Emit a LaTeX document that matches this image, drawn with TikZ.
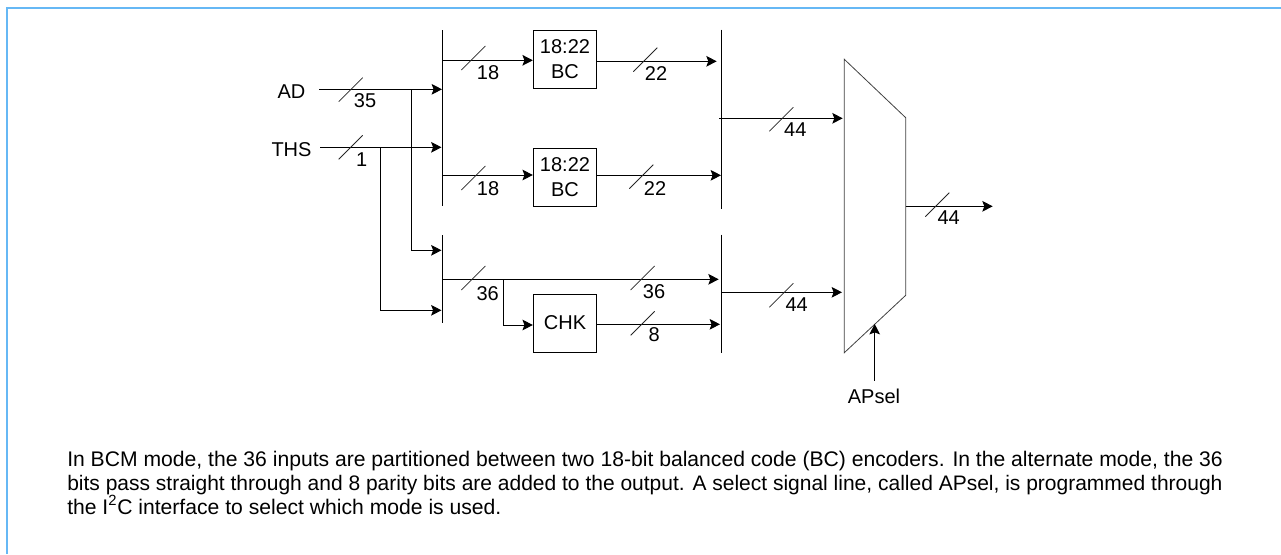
\documentclass[tikz,border=0pt]{standalone}
\usepackage{fontspec}
\setmainfont{Liberation Sans}
\usetikzlibrary{arrows.meta, positioning}
\definecolor{frameblue}{rgb}{0.4, 0.72, 0.96}
\definecolor{slashgray}{rgb}{0.15, 0.15, 0.15}
\tikzset{
    wire/.style={line width=0.75pt},
    feed/.style={wire, -{Stealth[length=7.8pt, width=8pt, inset=1.5pt]}},
    busbar/.style={line width=0.75pt},
    slash/.style={line width=0.55pt, slashgray},
    coder/.style={draw, line width=0.75pt, minimum width=47.5pt, minimum height=43.5pt, inner sep=0pt, align=center, font=\fontsize{15}{18.75}\selectfont},
    tag/.style={inner sep=0pt, font=\fontsize{15}{18}\selectfont},
    noteline/.style={anchor=base west, inner sep=0pt, font=\fontsize{15.85}{18}\selectfont}
}

\begin{document}
\begin{tikzpicture}[x=0.75pt, y=-0.75pt]
    \useasboundingbox (0, 0) rectangle (1281, 554);
    \draw[frameblue, line width=1.8pt] (7, 554) -- (7, 7.8) -- (1281, 7.8);

    % blocks
    \node[coder] (BCa) at (565, 59.3) {18:22\\BC};
    \node[coder] (BCb) at (565, 177.2) {18:22\\BC};
    \node[coder] (CHK) at (565, 323) {\raisebox{-1.5pt}{CHK}};

    % inputs
    \node[tag] (AD) at (291.5, 91.5) {AD};
    \node[tag] (THS) at (291.5, 149.5) {THS};
    \node[tag] (APsel) at (874, 396) {APsel};

    % buses on the left
    \coordinate (LaT) at (442.5, 30);
    \coordinate (LaB) at (442.5, 206);
    \coordinate (LbT) at (442.5, 235);
    \coordinate (LbB) at (442.5, 323);
    \draw[busbar] (LaT) -- (LaB);
    \draw[busbar] (LbT) -- (LbB);

    % buses on the right
    \coordinate (RaT) at (721.5, 29.5);
    \coordinate (RaB) at (721.5, 208.5);
    \coordinate (RbT) at (721.5, 234.5);
    \coordinate (RbB) at (721.5, 353);
    \draw[busbar] (RaT) -- (RaB);
    \draw[busbar] (RbT) -- (RbB);

    % mux
    \coordinate (MuxA) at (844.3, 59.3);
    \coordinate (MuxB) at (905.7, 117.7);
    \coordinate (MuxC) at (905.7, 295.3);
    \coordinate (MuxD) at (844.3, 352.7);
    \draw[line width=0.6pt, black!75] (MuxA) -- (MuxB) -- (MuxC) -- (MuxD) -- cycle;

    % points where wires meet the bars
    \coordinate (ADin) at (319, 89.3);
    \coordinate (ADend) at (442, 89.3);
    \coordinate (ADtap) at (411.7, 89.3);
    \coordinate (ADlow) at (411.7, 250.3);
    \coordinate (ADlowend) at (441.5, 250.3);
    \coordinate (THSin) at (320, 147.3);
    \coordinate (THSend) at (441.5, 147.3);
    \coordinate (THStap) at (380, 147.3);
    \coordinate (THSlow) at (380, 310.3);
    \coordinate (THSlowend) at (441.5, 310.3);

    \coordinate (LaOutA) at (442.5, 60.3);
    \coordinate (LaOutB) at (442.5, 175);
    \coordinate (LbOut) at (442.5, 279.3);
    \coordinate (LbTap) at (503.3, 279.3);
    \coordinate (LbLow) at (503.3, 325);
    \coordinate (LbEnd) at (718.7, 279.3);

    \coordinate (RaInA) at (716.7, 61.3);
    \coordinate (RaInB) at (721, 175.3);
    \coordinate (RbIn) at (720, 324.3);
    \coordinate (RaOut) at (719, 118.3);
    \coordinate (RaMux) at (842.7, 118.3);
    \coordinate (RbOut) at (721.5, 292.3);
    \coordinate (RbMux) at (842, 292.3);
    \coordinate (OutA) at (905.7, 206.3);
    \coordinate (OutB) at (992.7, 206.3);
    \coordinate (SelA) at (874.7, 380.7);
    \coordinate (SelB) at (874.7, 324);

    \draw[feed] (ADin) -- (ADend);
    \draw[feed] (THSin) -- (THSend);
    \draw[feed] (ADtap) -- (ADlow) -- (ADlowend);
    \draw[feed] (THStap) -- (THSlow) -- (THSlowend);

    \draw[feed] (LaOutA) -- (LaOutA -| BCa.west);
    \draw[feed] (LaOutB) -- (LaOutB -| BCb.west);
    \draw[feed] (LbOut) -- (LbEnd);
    \draw[feed] (LbTap) -- (LbLow) -- (CHK.west |- LbLow);

    \draw[feed] (RaInA -| BCa.east) -- (RaInA);
    \draw[feed] (RaInB -| BCb.east) -- (RaInB);
    \draw[feed] (RbIn -| CHK.east) -- (RbIn);

    \draw[feed] (RaOut) -- (RaMux);
    \draw[feed] (RbOut) -- (RbMux);
    \draw[feed] (OutA) -- (OutB);
    \draw[feed] (SelA) -- (SelB);

    % width marks
    \draw[slash] (338.7, 101.7) -- (362.7, 77.7);
    \draw[slash] (338.7, 159.3) -- (362.7, 135.3);
    \draw[slash] (461.3, 70) -- (485.3, 46);
    \draw[slash] (461.3, 190) -- (485.3, 166);
    \draw[slash] (461.3, 290) -- (485.3, 266);
    \draw[slash] (633.3, 71.7) -- (657.3, 47.7);
    \draw[slash] (629.3, 188.7) -- (653.3, 164.7);
    \draw[slash] (630.7, 290) -- (654.7, 266);
    \draw[slash] (630.7, 335.3) -- (654.7, 311.3);
    \draw[slash] (769.3, 131.3) -- (793.3, 107.3);
    \draw[slash] (769.3, 307.3) -- (793.3, 283.3);
    \draw[slash] (925.3, 216.7) -- (949.3, 192.7);

    \node[tag] (w35) at (365, 101) {35};
    \node[tag] (w1) at (361.7, 160) {1};
    \node[tag] (w18a) at (488, 72.7) {18};
    \node[tag] (w18b) at (488, 188.3) {18};
    \node[tag] (w36a) at (487.7, 293.3) {36};
    \node[tag] (w22a) at (656, 73.3) {22};
    \node[tag] (w22b) at (655, 188.3) {22};
    \node[tag] (w36b) at (654, 291.7) {36};
    \node[tag] (w8) at (654.3, 335) {8};
    \node[tag] (w44a) at (795.3, 129.3) {44};
    \node[tag] (w44b) at (796.7, 304.3) {44};
    \node[tag] (w44c) at (948.7, 217.3) {44};

    % caption
    \node[noteline] (noteA) at (67, 466.5) {In BCM mode, the 36 inputs are partitioned between two 18-bit balanced code (BC) encoders. In the alternate mode, the 36};
    \node[noteline, font=\fontsize{15.75}{18}\selectfont] (noteB) at (67, 490.5) {bits pass straight through and 8 parity bits are added to the output. A select signal line, called APsel, is programmed through};
    \node[noteline] (noteC) at (67, 514) {the I\textsuperscript{2}C interface to select which mode is used.};
\end{tikzpicture}
\end{document}
